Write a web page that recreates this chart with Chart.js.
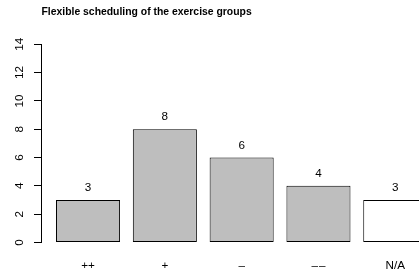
<!DOCTYPE html>
<html>
<head>
<meta charset="utf-8">
<script src="https://cdn.jsdelivr.net/npm/chart.js@4/dist/chart.umd.min.js"></script>
<style>
  html, body { margin: 0; padding: 0; background: #fff; overflow: hidden; }
  #wrap { width: 419px; height: 279px; }
</style>
</head>
<body>
<div id="wrap"><canvas id="chart"></canvas></div>
<script>
const title = "Flexible scheduling of the exercise groups";
const categories = ["++", "+", "\u2013", "\u2013\u200a\u2013", "N/A"];
const counts = [3, 8, 6, 4, 3];
const yTicks = [0, 2, 4, 6, 8, 10, 12, 14];

const FONT = "'Liberation Sans', Arial, Helvetica, sans-serif";
Chart.defaults.color = "#000";
Chart.defaults.font.family = FONT;

// count above each bar, like text() in base R
const barValues = {
  id: "barValues",
  afterDatasetsDraw(chart) {
    const ctx = chart.ctx;
    const meta = chart.getDatasetMeta(0);
    ctx.save();
    ctx.font = "11.7px " + FONT;
    ctx.fillStyle = "#000";
    ctx.textAlign = "center";
    ctx.textBaseline = "middle";
    meta.data.forEach((bar, i) => {
      ctx.fillText(String(counts[i]), bar.x, bar.y - 12);
    });
    ctx.restore();
  }
};

new Chart(document.getElementById("chart"), {
  type: "bar",
  data: {
    datasets: [{
      data: counts.map((v, i) => ({ x: i + 1, y: v })),
      backgroundColor: categories.map(c => c === "N/A" ? "#ffffff" : "#bebebe"),
      borderColor: "#000",
      borderWidth: 1,
      borderSkipped: false,
      categoryPercentage: 1,
      barPercentage: 0.834,
      clip: false
    }]
  },
  options: {
    responsive: true,
    maintainAspectRatio: false,
    animation: false,
    events: [],
    layout: { padding: 0 },
    plugins: {
      legend: { display: false },
      tooltip: { enabled: false },
      title: {
        display: true,
        text: title,
        align: "start",
        fullSize: false,
        color: "#000",
        font: { size: 10.4, weight: "bold", lineHeight: 1.2 },
        padding: { top: 5.8, bottom: 26 }
      }
    },
    scales: {
      x: {
        type: "linear",
        min: 0.394,
        max: 5.309,
        offset: false,
        grid: { display: false, drawTicks: false, offset: false },
        border: { display: false },
        afterBuildTicks: s => { s.ticks = categories.map((c, i) => ({ value: i + 1 })); },
        afterFit: s => { s.height = 36.5; s.paddingLeft = 0; s.paddingRight = 0; },
        ticks: {
          font: { size: 11.7 },
          padding: 16,
          maxRotation: 0,
          autoSkip: false,
          callback: v => categories[v - 1]
        }
      },
      y: {
        min: 0,
        max: 14,
        afterBuildTicks: s => { s.ticks = yTicks.map(v => ({ value: v })); },
        afterFit: s => { s.width = 41.5; },
        border: { display: true, color: "#000", width: 1 },
        grid: { drawOnChartArea: false, drawTicks: true, tickLength: 7.5, color: "#000" },
        ticks: {
          font: { size: 11.7 },
          minRotation: 90,
          maxRotation: 90,
          crossAlign: "center",
          padding: 8
        }
      }
    }
  },
  plugins: [barValues]
});
</script>
</body>
</html>
